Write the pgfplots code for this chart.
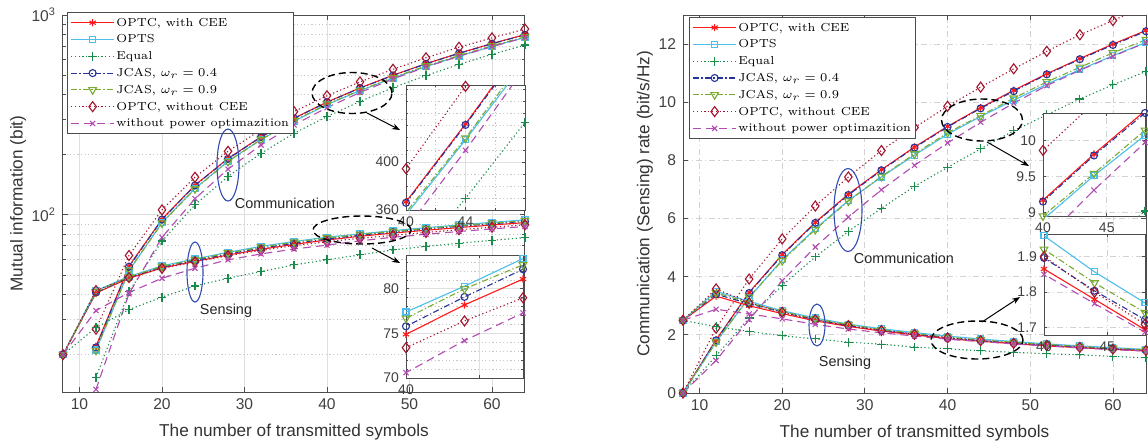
\documentclass[border=0pt]{standalone}
\usepackage{fontspec}
\setsansfont{Liberation Sans}
\usepackage{pgfplots}
\pgfplotsset{compat=1.18}
\usepackage{pgfplotstable}
\usetikzlibrary{arrows.meta}

\definecolor{cR}{rgb}{1,0.1,0.1}
\definecolor{cC}{rgb}{0.30,0.75,0.93}
\definecolor{cG}{rgb}{0.1,0.55,0.3}
\definecolor{cB}{rgb}{0.15,0.2,0.6}
\definecolor{cY}{rgb}{0.47,0.67,0.19}
\definecolor{cD}{rgb}{0.64,0.08,0.18}
\definecolor{cP}{rgb}{0.7,0.3,0.7}
\definecolor{cE}{rgb}{0.2,0.3,0.7}

% rate, communication
\pgfplotstableread{
N optc opts equal j4 j9 nocee nopow
8 0 0 0 0 0 0 0
12 1.83 1.76 1.28 1.81 1.75 2.23 1.12
16 3.46 3.28 2.58 3.44 3.30 3.92 2.52
20 4.76 4.58 3.70 4.74 4.55 5.30 3.86
24 5.87 5.65 4.68 5.85 5.62 6.43 5.02
28 6.84 6.62 5.56 6.81 6.60 7.43 6.05
32 7.68 7.43 6.35 7.66 7.45 8.34 6.99
36 8.46 8.18 7.11 8.44 8.22 9.13 7.83
40 9.17 8.90 7.76 9.15 8.95 9.86 8.60
44 9.81 9.51 8.40 9.79 9.54 10.52 9.31
48 10.41 10.07 9.02 10.38 10.14 11.15 9.97
52 10.98 10.62 9.57 10.96 10.70 11.75 10.57
56 11.50 11.12 10.11 11.48 11.20 12.32 11.10
60 12.00 11.60 10.60 11.97 11.70 12.81 11.58
64 12.47 12.06 11.06 12.44 12.15 13.30 12.05
}\rcomm

% rate, sensing
\pgfplotstableread{
N optc opts equal j4 j9 nocee nopow
8 2.50 2.50 2.50 2.50 2.50 2.50 2.50
12 3.33 3.50 2.28 3.40 3.45 3.58 2.88
16 3.00 3.15 2.12 3.07 3.10 3.10 2.72
20 2.73 2.83 1.97 2.78 2.80 2.78 2.55
24 2.48 2.58 1.86 2.52 2.55 2.52 2.36
28 2.29 2.37 1.75 2.32 2.35 2.32 2.20
32 2.13 2.21 1.68 2.16 2.18 2.15 2.07
36 2.00 2.08 1.58 2.03 2.05 2.02 1.96
40 1.865 1.958 1.52 1.896 1.92 1.90 1.85
44 1.78 1.857 1.45 1.804 1.826 1.80 1.768
48 1.695 1.77 1.40 1.723 1.743 1.71 1.688
52 1.62 1.69 1.35 1.65 1.67 1.64 1.62
56 1.56 1.62 1.31 1.58 1.60 1.57 1.55
60 1.50 1.56 1.26 1.52 1.54 1.51 1.49
64 1.45 1.50 1.21 1.47 1.49 1.46 1.44
}\rsens

% mutual information, communication
\pgfplotstableread{
N optc opts equal j4 j9 nocee nopow
12 22.0 21.1 15.4 21.7 21.0 26.8 13.4
16 55.4 52.5 41.3 55.0 52.8 62.7 40.3
20 95.2 91.6 74.0 94.8 91.0 106.0 77.2
24 140.9 135.6 112.3 140.4 134.9 154.3 120.5
28 191.5 185.4 155.7 190.7 184.8 208.0 169.4
32 245.8 237.8 203.2 245.1 238.4 266.9 223.7
36 304.6 294.5 256.0 303.8 295.9 328.7 281.9
40 366.8 356.0 310.4 366.0 358.0 394.4 344.0
44 431.6 418.4 369.6 430.8 419.8 462.9 409.6
48 499.7 483.4 433.0 498.2 486.7 535.2 478.6
52 571.0 552.2 497.6 570.0 556.4 611.0 549.6
56 644.0 622.7 566.2 642.9 627.2 690.0 621.6
60 720.0 696.0 636.0 718.2 702.0 768.6 694.8
64 798.1 771.8 707.8 796.2 777.6 851.2 771.2
}\mcomm

% mutual information, sensing
\pgfplotstableread{
N optc opts equal j4 j9 nocee nopow
8 20 20 20 20 20 20 20
12 40.7 41.8 27.3 40.9 41.2 41.8 33.2
16 48.2 49.2 33.6 48.6 49.0 48.6 40.9
20 54.3 55.6 38.8 54.8 55.2 54.0 48.2
24 58.5 60.2 44.1 59.2 59.8 58.2 54.1
28 63.0 65.0 48.2 63.8 64.5 62.5 59.6
32 67.3 69.6 52.1 68.2 69.0 66.5 63.8
36 71.2 73.6 56.2 72.1 73.0 70.2 67.5
40 74.9 77.4 59.6 75.8 76.7 73.4 70.6
44 78.2 80.3 63.1 79.1 80.0 76.4 74.2
48 81.1 83.4 66.8 82.2 82.7 79.0 77.3
52 83.8 86.3 69.6 85.0 85.6 81.7 80.0
56 86.4 89.1 72.2 87.7 88.4 84.3 82.6
60 89.0 91.8 74.6 90.3 91.0 86.8 85.1
64 91.5 94.4 77.0 92.8 93.6 89.2 87.5
}\msens

\pgfplotsset{
  sR/.style={color=cR, line width=0.55pt, solid, mark=asterisk, mark size=1.8pt, mark options={solid}},
  sC/.style={color=cC, line width=0.55pt, solid, mark=square, mark size=1.5pt, mark options={solid}},
  sG/.style={color=cG, line width=0.55pt, dash pattern=on 0.6pt off 1.3pt, mark=+, mark size=2.2pt, mark options={solid}},
  sB/.style={color=cB, line width=0.55pt, dash pattern=on 3pt off 1.2pt on 0.6pt off 1.2pt, mark=o, mark size=1.75pt, mark options={solid}},
  sY/.style={color=cY, line width=0.55pt, dash pattern=on 3pt off 1.2pt on 0.6pt off 1.2pt, mark=triangle, mark size=2.2pt, mark options={solid, rotate=180}},
  sD/.style={color=cD, line width=0.55pt, dash pattern=on 0.6pt off 1.3pt, mark=diamond, mark size=2.5pt, mark options={solid}},
  sP/.style={color=cP, line width=0.55pt, dash pattern=on 4pt off 2.5pt, mark=x, mark size=1.8pt, mark options={solid}},
  legend image code/.code={\draw[mark repeat=2, mark phase=2] plot coordinates {(0pt,0pt) (10.8pt,0pt) (21.6pt,0pt)};},
  common/.style={
    scale only axis, anchor=south west,
    axis line style={draw=black!70, line width=0.5pt},
    tick style={draw=black!70, line width=0.4pt},
    tick align=inside, major tick length=2.5pt, minor tick length=1.4pt,
    tick label style={font=\sffamily\fontsize{7.8}{8}\selectfont, text=black!75},
    /pgf/number format/assume math mode=true,
    label style={font=\sffamily\fontsize{8.6}{9}\selectfont, text=black!80},
    axis background/.style={fill=white},
    xmin=8, xmax=64, xtick={10,20,...,60},
  },
  leg/.style={
    legend cell align=left,
    legend style={draw=black!70, line width=0.5pt, fill=white,
      font=\fontsize{5.8}{6.5}\selectfont, inner xsep=1.5pt, inner ysep=1pt, row sep=0.2pt,
      nodes={inner sep=0.8pt, text height=5pt, text depth=1.6pt}},
    legend entries={{OPTC, with CEE},{OPTS},{Equal},{JCAS, $\omega_r=0.4$},{JCAS, $\omega_r=0.9$},{OPTC, without CEE},{without power optimazition}},
  },
  inset/.style={common, xmin=40, xmax=48,
    tick label style={font=\sffamily\fontsize{7}{7}\selectfont},
    major tick length=1.5pt, minor tick length=1pt},
}

\newcommand\allseries[2]{%
  \addplot[sR,#2] table[x=N,y=optc]{#1};
  \addplot[sC,#2] table[x=N,y=opts]{#1};
  \addplot[sG,#2] table[x=N,y=equal]{#1};
  \addplot[sB,#2] table[x=N,y=j4]{#1};
  \addplot[sY,#2] table[x=N,y=j9]{#1};
  \addplot[sD,#2] table[x=N,y=nocee]{#1};
  \addplot[sP,#2] table[x=N,y=nopow]{#1};
}

\begin{document}
\begin{tikzpicture}
\useasboundingbox (0pt,0pt) rectangle (574pt,-220.5pt);

% ---------- left: mutual information ----------
\begin{axis}[common, leg,
  at={(31.5pt,-196pt)}, width=231pt, height=188.5pt,
  ymode=log, ymin=13, ymax=1000,
  ytick={100,1000}, yticklabels={10\textsuperscript{2},10\textsuperscript{3}},
  minor ytick={20,30,40,50,60,70,80,90,200,300,400,500,600,700,800,900},
  grid=both, major grid style={gray!25, solid},
  minor grid style={gray!45, dash pattern=on 0.6pt off 1.2pt},
  xlabel={The number of transmitted symbols},
  ylabel={Mutual information (bit)},
  xlabel style={at={(axis description cs:0.5,-0.106)}, anchor=center},
  ylabel style={at={(axis description cs:-0.097,0.5)}, anchor=center},
  legend style={at={(rel axis cs:0.0087,1.008)}, anchor=north west},
]
\allseries{\mcomm}{}
\allseries{\msens}{forget plot}
\end{axis}

\begin{axis}[inset, at={(203pt,-105pt)}, width=59.5pt, height=62.5pt,
  ymin=360, ymax=464, xtick={40,44}, minor xtick={42,46},
  ytick={360,400}, minor ytick={370,380,390,410,420,430,440,450,460},
  grid=both, major grid style={gray!25, solid},
  minor grid style={gray!45, dash pattern=on 0.6pt off 1.2pt}]
\allseries{\mcomm}{}
\end{axis}

\begin{axis}[inset, at={(203pt,-189pt)}, width=58.5pt, height=61.5pt,
  ymin=70, ymax=83.8, xtick={40,45}, xticklabels={40,},
  ytick={70,75,80}, minor ytick={71,72,73,74,76,77,78,79,81,82,83},
  grid=both, major grid style={gray!25, solid},
  minor grid style={gray!45, dash pattern=on 0.6pt off 1.2pt}]
\allseries{\msens}{}
\end{axis}

% ---------- right: rate ----------
\begin{axis}[common, leg,
  at={(341.5pt,-196.5pt)}, width=231.5pt, height=189pt,
  ymin=0, ymax=13, ytick={0,2,...,12},
  grid=major, major grid style={gray!35, dash pattern=on 3pt off 1.5pt on 0.6pt off 1.5pt},
  xlabel={The number of transmitted symbols},
  ylabel={Communication (Sensing) rate (bit/s/Hz)},
  xlabel style={at={(axis description cs:0.5,-0.106)}, anchor=center},
  ylabel style={at={(axis description cs:-0.082,0.5)}, anchor=center},
  legend style={at={(rel axis cs:0.013,0.995)}, anchor=north west},
]
\allseries{\rcomm}{}
\allseries{\rsens}{forget plot}
\end{axis}

\begin{axis}[inset, at={(521.5pt,-108pt)}, width=51pt, height=51.5pt,
  ymin=8.95, ymax=10.38, xtick={40,45}, ytick={9,9.5,10},
  grid=major, major grid style={gray!35, dash pattern=on 3pt off 1.5pt on 0.6pt off 1.5pt}]
\allseries{\rcomm}{}
\end{axis}

\begin{axis}[inset, at={(522pt,-167.5pt)}, width=50.5pt, height=50.5pt,
  ymin=1.68, ymax=1.963, xtick={40,45}, ytick={1.7,1.8,1.9},
  grid=major, major grid style={gray!35, dash pattern=on 3pt off 1.5pt on 0.6pt off 1.5pt}]
\allseries{\rsens}{}
\end{axis}

% ---------- annotations (pixel grid of the figure) ----------
\begin{scope}[x=0.5pt, y=-0.5pt]
\tikzset{blueell/.style={draw=cE, line width=0.55pt},
  dashell/.style={draw=black, line width=0.7pt, dash pattern=on 3.5pt off 2pt},
  arr/.style={draw=black, line width=0.5pt, -{Stealth[length=4pt, width=3pt]}},
  lab/.style={font=\sffamily\fontsize{7.2}{8}\selectfont, text=black!85}}
% left
\draw[blueell] (228,165) ellipse [x radius=5.5pt, y radius=18pt];
\draw[blueell] (195,272) ellipse [x radius=4pt, y radius=15pt];
\node[lab] at (285,203) {Communication};
\node[lab] at (226,311) {Sensing};
\draw[dashell] (352,93) ellipse [x radius=20pt, y radius=10.25pt];
\draw[arr] (367,113) -- (400,130);
\draw[dashell] (362,230) ellipse [x radius=24.5pt, y radius=7pt];
\draw[arr] (372,248) -- (400,263);
% right
\draw[blueell] (848,210) ellipse [x radius=7pt, y radius=20.75pt];
\draw[blueell] (817,325) ellipse [x radius=4pt, y radius=10.5pt];
\node[lab] at (904,258) {Communication};
\node[lab] at (845,363) {Sensing};
\draw[dashell] (982,120) ellipse [x radius=20.25pt, y radius=10.5pt];
\draw[arr] (987,142) -- (1029,166);
\draw[dashell] (977,340) ellipse [x radius=23pt, y radius=9.5pt];
\draw[arr] (982,322) -- (1020,297);
\end{scope}
\end{tikzpicture}
\end{document}
